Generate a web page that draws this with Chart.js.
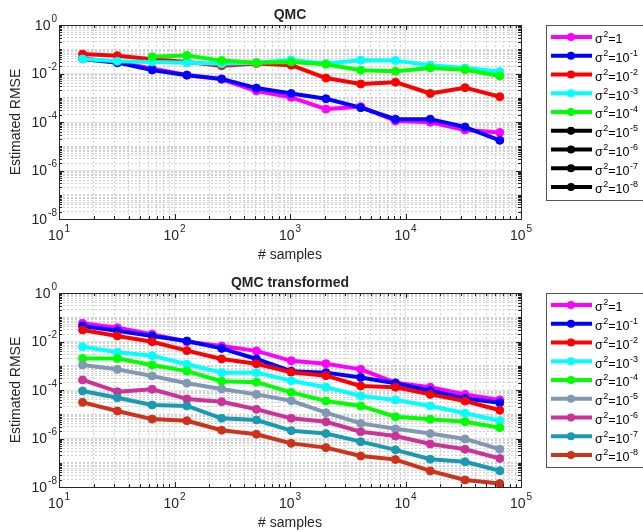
<!DOCTYPE html>
<html>
<head>
<meta charset="utf-8">
<script src="https://cdn.jsdelivr.net/npm/chart.js@4"></script>
<style>
  html, body { margin: 0; padding: 0; background: #fff; }
  #wrap { position: relative; width: 643px; height: 532px; }
  canvas { position: absolute; left: 0; }
</style>
</head>
<body>
<div id="wrap">
  <canvas id="qmc" width="643" height="266" style="top:0"></canvas>
  <canvas id="qmc-transformed" width="643" height="266" style="top:266px"></canvas>
</div>
<script>
// sample counts (x axis)
const samples = [16, 32, 64, 128, 256, 512, 1024, 2048, 4096, 8192, 16384, 32768, 65536];

// sigma^2 = 10^e for each curve
const sigmaExps = [0, -1, -2, -3, -4, -5, -6, -7, -8];

// axis tick labels (powers of ten)
const xTickExps = [1, 2, 3, 4, 5];
const yTickExps = [0, -2, -4, -6, -8];

// plain QMC estimates
const qmcE0 = [0.042, 0.029, 0.016, 0.0087, 0.0058, 0.0019, 0.00104, 3.4e-4, 4.3e-4, 1.1e-4, 9.7e-5, 4.7e-5, 3.7e-5];
const qmcE1 = [0.040, 0.028, 0.014, 0.0085, 0.006, 0.0025, 0.0015, 9.1e-4, 3.9e-4, 1.3e-4, 1.3e-4, 6.2e-5, 1.75e-5];
const qmcE2 = [0.063, 0.054, 0.039, 0.03, 0.021, 0.026, 0.022, 0.0065, 0.0037, 0.0044, 0.0015, 0.0026, 0.0011];
const qmcE3 = [0.04, 0.032, 0.03, 0.028, 0.025, 0.028, 0.036, 0.026, 0.035, 0.034, 0.022, 0.017, 0.012];
const qmcE4 = [null, null, 0.049, 0.055, 0.034, 0.028, 0.03, 0.024, 0.0135, 0.0123, 0.017, 0.0144, 0.0079];
const qmcSeries = [qmcE0, qmcE1, qmcE2, qmcE3, qmcE4, [], [], [], []];

// transformed QMC estimates
const trE0 = [0.056, 0.037, 0.02, 0.0098, 0.0065, 0.0041, 0.0016, 0.00122, 7.1e-4, 2.0e-4, 1.3e-4, 6.6e-5, 3.9e-5];
const trE1 = [0.044, 0.028, 0.017, 0.0105, 0.0052, 0.0019, 6.0e-4, 5.2e-4, 3.3e-4, 1.9e-4, 9.3e-5, 4.5e-5, 3.0e-5];
const trE2 = [0.03, 0.017, 0.0098, 0.0042, 0.0019, 0.0012, 5.4e-4, 3.9e-4, 1.46e-4, 1.3e-4, 6.6e-5, 3.5e-5, 1.46e-5];
const trE3 = [0.0061, 0.0036, 0.0026, 0.00115, 5.2e-4, 5.2e-4, 2.4e-4, 1.3e-4, 5.7e-5, 3.9e-5, 2.2e-5, 1.1e-5, 5.4e-6];
const trE4 = [0.002, 0.002, 0.00107, 6.0e-4, 2.3e-4, 2.1e-4, 8.0e-5, 3.5e-5, 2.2e-5, 7.9e-6, 6.2e-6, 4.9e-6, 2.8e-6];
const trE5 = [0.00107, 7.1e-4, 3.8e-4, 1.9e-4, 1.1e-4, 6.6e-5, 3.6e-5, 1.16e-5, 4.2e-6, 2.5e-6, 1.6e-6, 9.6e-7, 3.6e-7];
const trE6 = [2.6e-4, 8.5e-5, 1.07e-4, 4.3e-5, 3.3e-5, 1.6e-5, 6.8e-6, 4.9e-6, 1.9e-6, 1.26e-6, 5.9e-7, 3.6e-7, 1.5e-7];
const trE7 = [9.1e-5, 4.8e-5, 2.4e-5, 2.2e-5, 6.8e-6, 5.8e-6, 2.1e-6, 1.6e-6, 7.4e-7, 3.4e-7, 1.4e-7, 1.1e-7, 4.7e-8];
const trE8 = [3.1e-5, 1.36e-5, 6.3e-6, 5.4e-6, 2.2e-6, 1.5e-6, 6.3e-7, 4.2e-7, 1.9e-7, 1.35e-7, 4.6e-8, 1.95e-8, 1.4e-8];
const trSeries = [trE0, trE1, trE2, trE3, trE4, trE5, trE6, trE7, trE8];

const qmcColors = ["#ff00ff", "#0000ff", "#ff0000", "#00ffff", "#00ff00", "#000000", "#000000", "#000000", "#000000"];
const trColors = ["#ff00ff", "#0000ff", "#ff0000", "#00ffff", "#00ff00", "#8099b3", "#cc3399", "#1a99b3", "#cc331a"];

const FONT = "'Liberation Sans', Arial, sans-serif";
const TXT = "#262626";

const isDecade = (v) => Math.abs(Math.log10(v) - Math.round(Math.log10(v))) < 1e-9;
const isYMajor = (v) => yTickExps.some((e) => Math.abs(Math.log10(v) - e) < 1e-9);

// 1..9 x 10^n ticks between two powers of ten
function logTicks(lo, hi) {
  const out = [];
  for (let e = lo; e < hi; e++) {
    for (let m = 1; m < 10; m++) out.push({ value: m * Math.pow(10, e) });
  }
  out.push({ value: Math.pow(10, hi) });
  return out;
}

// "10" with a raised exponent
function drawPow(ctx, exp, x, y, align) {
  ctx.font = "14px " + FONT;
  const wb = ctx.measureText("10").width;
  ctx.font = "10px " + FONT;
  const sup = String(exp);
  const ws = ctx.measureText(sup).width;
  const total = wb + 1 + ws;
  const x0 = align === "right" ? x - total : x - total / 2;
  ctx.textAlign = "left";
  ctx.textBaseline = "middle";
  ctx.font = "14px " + FONT;
  ctx.fillText("10", x0, y);
  ctx.font = "10px " + FONT;
  ctx.fillText(sup, x0 + wb + 1, y - 7);
}

const frame = {
  id: "frame",
  afterDraw(chart, args, opts) {
    const ctx = chart.ctx;
    const a = chart.chartArea;
    const xs = chart.scales.x;
    const ys = chart.scales.y;
    ctx.save();
    ctx.strokeStyle = TXT;
    ctx.lineWidth = 1;
    ctx.beginPath();
    xs.ticks.forEach((t) => {
      const px = Math.round(xs.getPixelForValue(t.value)) + 0.5;
      const len = isDecade(t.value) ? 5 : 3;
      ctx.moveTo(px, a.bottom); ctx.lineTo(px, a.bottom - len);
      ctx.moveTo(px, a.top); ctx.lineTo(px, a.top + len);
    });
    ys.ticks.forEach((t) => {
      const py = Math.round(ys.getPixelForValue(t.value)) + 0.5;
      const len = isYMajor(t.value) ? 5 : 3;
      ctx.moveTo(a.left, py); ctx.lineTo(a.left + len, py);
      ctx.moveTo(a.right, py); ctx.lineTo(a.right - len, py);
    });
    ctx.stroke();
    ctx.strokeRect(Math.round(a.left) + 0.5, Math.round(a.top) + 0.5,
      Math.round(a.right - a.left), Math.round(a.bottom - a.top));

    // tick labels
    ctx.fillStyle = TXT;
    xTickExps.forEach((e) => drawPow(ctx, e, xs.getPixelForValue(Math.pow(10, e)), a.bottom + 17, "center"));
    yTickExps.forEach((e) => drawPow(ctx, e, a.left - 2, ys.getPixelForValue(Math.pow(10, e)) + 1, "right"));

    // title and axis labels
    const cx = (a.left + a.right) / 2;
    ctx.textAlign = "center";
    ctx.textBaseline = "middle";
    ctx.font = "bold 14px " + FONT;
    ctx.fillText(opts.title, cx, a.top - 10);
    ctx.font = "14px " + FONT;
    ctx.fillText("# samples", cx, a.bottom + 36);
    ctx.save();
    ctx.translate(16, (a.top + a.bottom) / 2);
    ctx.rotate(-Math.PI / 2);
    ctx.fillText("Estimated RMSE", 0, 0);
    ctx.restore();

    // legend box on the right
    const lx = 546, ly = a.top;
    ctx.fillStyle = "#fff";
    ctx.fillRect(lx, ly, 120, opts.legendH);
    ctx.strokeStyle = "#555";
    ctx.strokeRect(lx + 0.5, ly + 0.5, 120, opts.legendH);
    chart.data.datasets.forEach((ds, i) => {
      const ry = ly + 12 + i * 18.75;
      ctx.strokeStyle = ds.borderColor;
      ctx.lineWidth = 4;
      ctx.beginPath();
      ctx.moveTo(551, ry); ctx.lineTo(592, ry);
      ctx.stroke();
      ctx.fillStyle = ds.borderColor;
      ctx.beginPath();
      ctx.arc(571, ry, 4, 0, Math.PI * 2);
      ctx.fill();
      // label: sigma^2 = 10^e
      ctx.fillStyle = "#000";
      ctx.textAlign = "left";
      ctx.textBaseline = "middle";
      let tx = 595;
      ctx.font = "12.5px " + FONT;
      ctx.fillText("σ", tx, ry + 3);
      tx += ctx.measureText("σ").width + 0.5;
      ctx.font = "9px " + FONT;
      ctx.fillText("2", tx, ry - 2);
      tx += ctx.measureText("2").width;
      ctx.font = "12.5px " + FONT;
      const e = sigmaExps[i];
      const base = e === 0 ? "=1" : "=10";
      ctx.fillText(base, tx, ry + 3);
      tx += ctx.measureText(base).width + 0.5;
      if (e !== 0) {
        ctx.font = "9px " + FONT;
        ctx.fillText(String(e), tx, ry - 2);
      }
    });
    ctx.restore();
  },
};

function makeChart(id, series, colors, title, xAxisH, top, legendH) {
  const datasets = series.map((vals, i) => ({
    label: "σ²=10^" + sigmaExps[i],
    data: vals.map((v, k) => ({ x: samples[k], y: v })).filter((p) => p.y !== null),
    borderColor: colors[i],
    backgroundColor: colors[i],
    pointBackgroundColor: colors[i],
    pointBorderColor: colors[i],
    borderWidth: 4,
    pointRadius: 4,
    pointBorderWidth: 1,
    borderJoinStyle: "round",
    order: series.length - i,
  }));

  const gridFor = (isMajor) => ({
    color: (c) => (c.tick && isMajor(c.tick.value) ? "#e3e3e3" : "#d0d0d0"),
    lineWidth: 1,
    drawTicks: false,
  });

  return new Chart(document.getElementById(id), {
    type: "line",
    data: { datasets },
    plugins: [frame],
    options: {
      responsive: false,
      animation: false,
      devicePixelRatio: 1,
      layout: { padding: { left: 0, top: top, right: 122, bottom: 0 } },
      plugins: {
        legend: { display: false },
        tooltip: { enabled: false },
        frame: { title: title, legendH: legendH },
      },
      scales: {
        x: {
          type: "logarithmic",
          min: 10,
          max: 100000,
          afterBuildTicks: (s) => { s.ticks = logTicks(1, 5); },
          afterFit: (s) => { s.height = xAxisH; },
          ticks: { display: false, autoSkip: false },
          grid: gridFor(isDecade),
          border: {
            display: false,
            dash: (c) => (c.tick && isDecade(c.tick.value) ? [] : [2, 2]),
          },
        },
        y: {
          type: "logarithmic",
          min: 1e-8,
          max: 1,
          afterBuildTicks: (s) => { s.ticks = logTicks(-8, 0); },
          afterFit: (s) => { s.width = 59; },
          ticks: { display: false, autoSkip: false },
          grid: gridFor(isYMajor),
          border: {
            display: false,
            dash: (c) => (c.tick && isYMajor(c.tick.value) ? [] : [2, 2]),
          },
        },
      },
    },
  });
}

makeChart("qmc", qmcSeries, qmcColors, "QMC", 47, 25, 175);
makeChart("qmc-transformed", trSeries, trColors, "QMC transformed", 45, 27, 174);
</script>
</body>
</html>
